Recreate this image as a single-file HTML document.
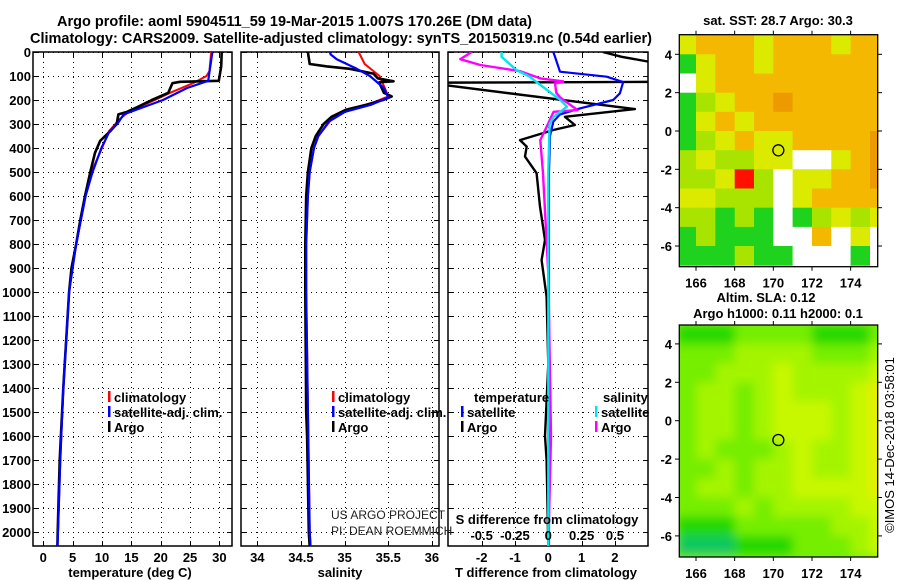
<!DOCTYPE html>
<html><head><meta charset="utf-8">
<style>
html,body{margin:0;padding:0;background:#fff;}
svg{display:block;font-family:"Liberation Sans",Arial,sans-serif;}
.b{font-weight:bold;font-size:13px;}
</style></head>
<body>
<svg id="fig" width="900" height="580" viewBox="0 0 900 580" xmlns="http://www.w3.org/2000/svg">
<defs>
<clipPath id="c1"><rect x="33" y="52" width="199" height="494"/></clipPath>
<clipPath id="c2"><rect x="241" y="52" width="198" height="494"/></clipPath>
<clipPath id="c3"><rect x="448" y="52" width="200" height="494"/></clipPath>
<clipPath id="cm1"><rect x="679.3" y="34.7" width="198.4" height="232"/></clipPath>
<clipPath id="cm2"><rect x="679.3" y="325" width="198.4" height="231.7"/></clipPath>
<filter id="blur" x="-10%" y="-10%" width="120%" height="120%"><feGaussianBlur stdDeviation="5"/></filter>
</defs>
<text x="57" y="26" textLength="475" lengthAdjust="spacingAndGlyphs" font-size="15" font-weight="bold">Argo profile: aoml 5904511_59 19-Mar-2015 1.007S 170.26E (DM data)</text>
<text x="30" y="43" textLength="622" lengthAdjust="spacingAndGlyphs" font-size="15" font-weight="bold">Climatology: CARS2009. Satellite-adjusted climatology: synTS_20150319.nc (0.54d earlier)</text>
<g id="root"></g>
</svg>
<script>
// ---------- data ----------
const depthTicks=[0,100,200,300,400,500,600,700,800,900,1000,1100,1200,1300,1400,1500,1600,1700,1800,1900,2000];
const tempTicks=[0,5,10,15,20,25,30];
const salTicks=[34,34.5,35,35.5,36];
const tdiffTicks=[-2,-1,0,1,2];
const sdiffTicks=[-0.5,-0.25,0,0.25,0.5];
const sdiffTickLabels=["-0.5","-0.25","0","0.25","0.5"];

const argoTDepth=[0,60,120,124,130,170,200,230,250,260,300,330,370,420,500,600,700,800,900,1000,1200,1400,1700,2000,2060];
const argoT=[30.4,30.3,29.9,23.3,22.0,21.3,18.5,16.0,14.2,12.8,12.5,11.4,9.7,8.8,8.0,7.1,6.3,5.6,4.8,4.4,3.9,3.4,2.8,2.45,2.4];
const climTDepth=[0,80,100,130,170,200,250,280,330,400,500,600,800,1000,1400,1700,2000,2060];
const climT=[28.6,28.3,27.8,25.5,21.6,19.0,14.5,13.0,11.2,10.0,8.2,7.2,5.6,4.4,3.4,2.9,2.5,2.4];
const satTDepth=[0,120,150,200,250,260,300,330,400,500,600,800,1000,1400,1700,2000,2060];
const satT=[28.8,28.1,24.5,20.4,14.8,13.7,12.6,11.3,9.9,8.4,7.2,5.6,4.4,3.4,2.9,2.5,2.4];

const argoSDepth=[0,50,60,70,90,110,122,126,130,170,185,200,220,240,270,300,350,400,500,600,800,1000,1500,1600,2000,2060];
const argoS=[34.58,34.6,34.8,35.06,35.33,35.38,35.56,35.4,35.4,35.45,35.54,35.44,35.25,35.02,34.85,34.76,34.67,34.62,34.58,34.56,34.55,34.55,34.56,34.57,34.59,34.6];
const climSDepth=[0,50,100,150,185,210,240,280,350,400,500,600,800,1000,2000,2060];
const climS=[35.16,35.23,35.4,35.46,35.5,35.33,35.05,34.85,34.7,34.65,34.6,34.58,34.56,34.56,34.6,34.61];
const satSDepth=[0,10,30,70,100,150,190,220,250,290,350,400,500,600,800,1000,2000,2060];
const satS=[34.83,34.84,34.91,35.14,35.29,35.45,35.5,35.3,35.0,34.82,34.7,34.65,34.6,34.58,34.56,34.56,34.6,34.61];

const dArgoTDepth=[0,20,50,118,124,128,140,238,270,304,325,367,394,436,505,644,783,867,1020,1300,1600,1700,2060];
const dArgoT=[1.64,2.2,3.4,3.5,3.5,-3.5,-3.0,2.6,0.5,0.8,0.15,-0.85,-0.65,-0.7,-0.35,-0.25,-0.1,-0.2,-0.05,0,-0.1,-0.05,0];
const dSatTDepth=[0,20,82,103,125,172,200,235,260,290,350,500,2060];
const dSatT=[0.15,0.2,0.35,1.75,2.25,2.15,1.95,0.95,0.35,0.15,0.05,0.02,0.02];
const dArgoSDepth=[0,30,54,80,110,122,126,130,170,190,242,249,297,367,505,922,1600,2060];
const dArgoS=[-0.575,-0.66,-0.51,-0.21,-0.06,0.11,0.11,0.05,0.06,0.09,0.22,0.04,0,-0.06,-0.04,0,0.02,0];
const dSatSDepth=[0,20,75,103,158,200,228,270,300,500,2060];
const dSatS=[-0.35,-0.35,-0.24,-0.14,-0.01,0.09,0.14,0.04,0.01,0,0];

const sstRows=["YOOOYOOOYOO","GYOOYOOOOOO","WYOOOOOOOOO","GLYOODOOOOO","GYOYOOOOOOO","GLYOYYOOOOD","LYLLYYWWYOD","LLYRLWYYOOD","YYLLLWYOOOO","LLGLGWGLYLY","GLGGGWWOWYW","GGGLGGWWWGW"];
const slaRows=["22233332223","33344443334","33444544445","34434544456","34434555456","34434555456","34333454456","33434454456","34434455556","33343444455","22233333445","11122233345"];
const mapLonTicks=[166,168,170,172,174];
const mapLatTicks=[4,2,0,-2,-4,-6];
const argoLon=170.26, argoLat=-1.007;

// ---------- helpers ----------
const NS="http://www.w3.org/2000/svg";
const root=document.getElementById('root');
function mk(tag,attrs,parent){const e=document.createElementNS(NS,tag);for(const k in attrs)e.setAttribute(k,attrs[k]);(parent||root).appendChild(e);return e;}
const yD=d=>52+d*0.24;
const xT=t=>43.3+5.87*t;
const xS=s=>257.3+(s-34)*87.3;
const xTd=t=>548.3+33.3*t;
const xSd=s=>548.3+133.3*s;
const mx=lon=>696+(lon-166)*19.33;
const my1=lat=>131+(0-lat)*19.17;
const my2=lat=>420.7+(0-lat)*19.2;

function panel(x0,x1,name,vgrid,clipId){
  const g=mk('g',{});
  
  
  depthTicks.forEach(d=>{const y=Math.round(yD(d))+0.5;const l=mk('line',{x1:x0,x2:x1,y1:y,y2:y,stroke:'#000','stroke-width':1,'stroke-dasharray':'1,4','shape-rendering':'crispEdges'},g);
    
    mk('line',{x1:x0,x2:x0+5,y1:y,y2:y,stroke:'#000'},g);mk('line',{x1:x1-5,x2:x1,y1:y,y2:y,stroke:'#000'},g);});
  vgrid.forEach(xv=>{const x=Math.round(xv)+0.5;const l=mk('line',{x1:x,x2:x,y1:52,y2:546,stroke:'#000','stroke-width':1,'stroke-dasharray':'1,4','shape-rendering':'crispEdges'},g);
    
    mk('line',{x1:x,x2:x,y1:541,y2:546,stroke:'#000'},g);mk('line',{x1:x,x2:x,y1:52,y2:57,stroke:'#000'},g);});
  const r=mk('rect',{x:x0,y:52,width:x1-x0,height:494,fill:'none',stroke:'#000','stroke-width':1.5},g);
  
  return mk('g',{'clip-path':'url(#'+clipId+')'},g);
}
function line(g,deps,vals,fx,color,w,name){
  const pts=deps.map((d,i)=>fx(vals[i]).toFixed(1)+','+yD(d).toFixed(1)).join(' ');
  const p=mk('polyline',{points:pts,fill:'none',stroke:color,'stroke-width':w,'stroke-linejoin':'round'},g);
  
}
function txt(x,y,s,attrs,name){const t=mk('text',Object.assign({x:x,y:y},attrs||{}));t.textContent=s;
  return t;}

depthTicks.forEach(d=>txt(31,yD(d)+5,String(d),{class:'b','text-anchor':'end'},'depth-tick-label'));

const g1=panel(33,232,'temperature-panel',tempTicks.map(xT),'c1');
line(g1,climTDepth,climT,xT,'#ff0000',2,'climatology-temperature-line');
line(g1,argoTDepth,argoT,xT,'#000',2.6,'argo-temperature-line');
line(g1,satTDepth,satT,xT,'#0000ff',2.2,'satellite-temperature-line');
tempTicks.forEach(t=>txt(xT(t),562,String(t),{class:'b','text-anchor':'middle'},'temperature-tick-label'));
txt(130,577,'temperature (deg C)',{class:'b','text-anchor':'middle'},'temperature-axis-title');

const g2=panel(241,439,'salinity-panel',salTicks.map(xS),'c2');
line(g2,climSDepth,climS,xS,'#ff0000',2,'climatology-salinity-line');
line(g2,argoSDepth,argoS,xS,'#000',2.6,'argo-salinity-line');
line(g2,satSDepth,satS,xS,'#0000ff',2.2,'satellite-salinity-line');
salTicks.forEach(s=>txt(xS(s),562,String(s),{class:'b','text-anchor':'middle'},'salinity-tick-label'));
txt(340,577,'salinity',{class:'b','text-anchor':'middle'},'salinity-axis-title');

const g3=panel(448,648,'difference-panel',tdiffTicks.map(xTd),'c3');
line(g3,dArgoTDepth,dArgoT,xTd,'#000',2.4,'argo-temperature-difference-line');
line(g3,dSatTDepth,dSatT,xTd,'#0000ff',2.2,'satellite-temperature-difference-line');
line(g3,dArgoSDepth,dArgoS,xSd,'#ff00ff',2.4,'argo-salinity-difference-line');
line(g3,dSatSDepth,dSatS,xSd,'#00e5ee',2.4,'satellite-salinity-difference-line');
tdiffTicks.forEach(t=>txt(xTd(t),562,String(t),{class:'b','text-anchor':'middle'},'tdiff-tick-label'));
txt(546,577,'T difference from climatology',{class:'b','text-anchor':'middle'},'tdiff-axis-title');
txt(547,524,'S difference from climatology',{class:'b','text-anchor':'middle'},'sdiff-axis-title');
sdiffTicks.forEach((s,i)=>txt(xSd(s),540,sdiffTickLabels[i],{class:'b','text-anchor':'middle'},'sdiff-tick-label'));

function legItem(x,y,color,label,name){
  const r=mk('rect',{x:x,y:y-11,width:2.5,height:11,fill:color});
  
  txt(x+6,y,label,{class:'b'},name);
}
legItem(108,402,'#ff0000','climatology','legend-climatology');
legItem(108,417,'#0000ff','satellite-adj. clim.','legend-satellite-adj');
legItem(108,432,'#000','Argo','legend-argo');
legItem(332,402,'#ff0000','climatology','legend-climatology-2');
legItem(332,417,'#0000ff','satellite-adj. clim.','legend-satellite-adj-2');
legItem(332,432,'#000','Argo','legend-argo-2');
txt(474,402,'temperature',{class:'b'},'legend-temperature-heading');
legItem(461,417,'#0000ff','satellite','legend-t-satellite');
legItem(461,432,'#000','Argo','legend-t-argo');
txt(603,402,'salinity',{class:'b'},'legend-salinity-heading');
legItem(595,417,'#00e5ee','satellite','legend-s-satellite');
legItem(595,432,'#ff00ff','Argo','legend-s-argo');
txt(331,519,'US ARGO PROJECT',{'font-size':12,fill:'#222'},'project-credit');
txt(331,535,'PI: DEAN ROEMMICH',{'font-size':12,fill:'#222'},'pi-credit');

const sstCol={O:'#f5b800',D:'#ec9a00',Y:'#dcea00',L:'#a8e400',G:'#1ed21e',W:'#ffffff',R:'#ff1000'};
const slaCol={'1':'#10c860','2':'#20d800','3':'#74ee00','4':'#a4f400','5':'#c8f800','6':'#e8ee00'};
function map(rows,cols,fy,top,clip,name,blur){
  const g=mk('g',{});
  const cg=mk('g',{'clip-path':'url(#'+clip+')'},g);
  const hg=mk('g',blur?{filter:'url(#blur)'}:{},cg);
  if(blur) mk('rect',{x:670,y:top-10,width:220,height:250,fill:cols['3']},hg);
  rows.forEach((row,r)=>{[...row].forEach((c,k)=>{
    const lat=5-r, lon=165+k;
    const cell=mk('rect',{x:mx(lon).toFixed(1),y:fy(lat).toFixed(1),width:19.9,height:19.7,fill:cols[c]},hg);
    
  });});
  const c=mk('circle',{cx:mx(argoLon),cy:fy(argoLat),r:5.5,fill:'none',stroke:'#000','stroke-width':1.3},cg);
  
  const fr=mk('rect',{x:679.3,y:top,width:198.4,height:232,fill:'none',stroke:'#000','stroke-width':1.3},g);
  
  mapLonTicks.forEach(l=>{mk('line',{x1:mx(l),x2:mx(l),y1:top,y2:top-4,stroke:'#000'},g);mk('line',{x1:mx(l),x2:mx(l),y1:top+232,y2:top+236,stroke:'#000'},g);
    txt(mx(l),top+253,String(l),{class:'b','text-anchor':'middle'},'map-lon-tick-label');});
  mapLatTicks.forEach(l=>{mk('line',{x1:679.3,x2:675,y1:fy(l),y2:fy(l),stroke:'#000'},g);mk('line',{x1:877.7,x2:882,y1:fy(l),y2:fy(l),stroke:'#000'},g);
    txt(672,fy(l)+5,String(l),{class:'b','text-anchor':'end'},'map-lat-tick-label');});
}
map(sstRows,sstCol,my1,34.7,'cm1','sst-map',false);
map(slaRows,slaCol,my2,325,'cm2','sla-map',true);
txt(778,25,'sat. SST: 28.7 Argo: 30.3',{class:'b','text-anchor':'middle'},'sst-map-title');
txt(766,302,'Altim. SLA: 0.12',{class:'b','text-anchor':'middle'},'sla-map-title');
txt(778,318,'Argo h1000: 0.11 h2000: 0.1',{class:'b','text-anchor':'middle'},'sla-map-subtitle');
txt(0,0,'©IMOS 14-Dec-2018 03:58:01',{'font-size':13,'text-anchor':'middle',transform:'translate(894,445) rotate(-90)'},'imos-credit');
</script>
</body></html>
